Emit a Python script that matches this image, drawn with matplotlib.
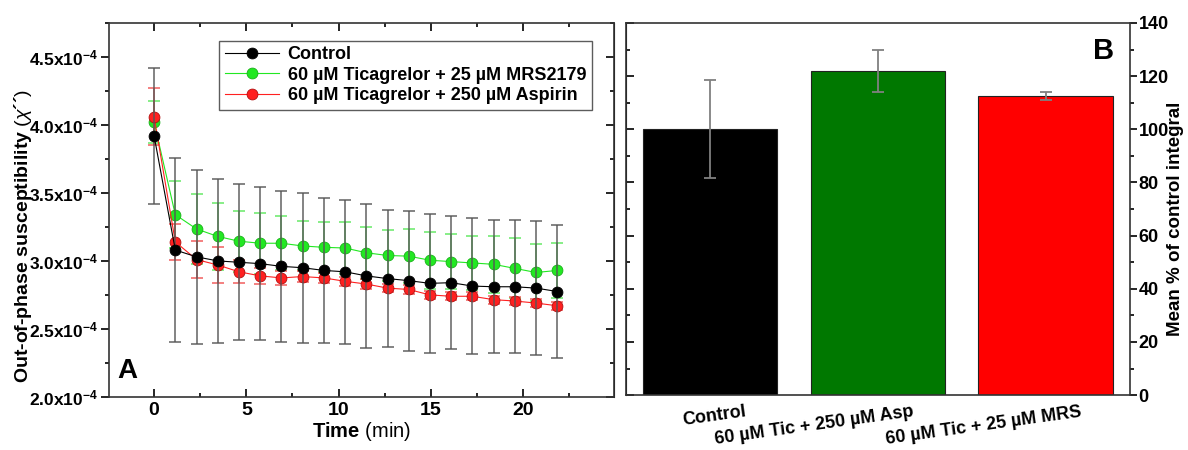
import numpy as np
import matplotlib
matplotlib.use('Agg')
import matplotlib.pyplot as plt
import matplotlib.transforms as mtrans
from matplotlib.ticker import MultipleLocator, FuncFormatter

plt.rcParams['font.family'] = ['Liberation Sans', 'DejaVu Sans']
plt.rcParams['mathtext.fontset'] = 'custom'
plt.rcParams['mathtext.rm'] = 'Liberation Sans'
plt.rcParams['mathtext.it'] = 'Liberation Sans:italic'
plt.rcParams['mathtext.bf'] = 'Liberation Sans:bold'

# panel A data (susceptibility, in units of 1e-4)
time_min = [0, 1.15, 2.3, 3.45, 4.6, 5.75, 6.9, 8.05, 9.2, 10.35,
            11.5, 12.65, 13.8, 14.95, 16.1, 17.25, 18.4, 19.55, 20.7, 21.85]
ctrl = [3.92, 3.08, 3.03, 3.00, 2.99, 2.98, 2.96, 2.95, 2.93, 2.92,
        2.89, 2.87, 2.855, 2.835, 2.84, 2.815, 2.81, 2.81, 2.80, 2.775]
ctrl_err = [0.50, 0.675, 0.64, 0.60, 0.575, 0.56, 0.555, 0.55, 0.53, 0.53,
            0.53, 0.505, 0.515, 0.51, 0.49, 0.50, 0.49, 0.49, 0.49, 0.49]
tic_mrs = [4.02, 3.34, 3.235, 3.18, 3.145, 3.13, 3.13, 3.11, 3.10, 3.095,
           3.06, 3.04, 3.035, 3.005, 2.995, 2.985, 2.975, 2.945, 2.915, 2.93]
tic_mrs_err = [0.155, 0.245, 0.26, 0.245, 0.225, 0.225, 0.20, 0.18, 0.185, 0.19,
               0.19, 0.19, 0.20, 0.21, 0.20, 0.20, 0.21, 0.22, 0.21, 0.20]
tic_asp = [4.06, 3.14, 3.01, 2.97, 2.92, 2.89, 2.875, 2.885, 2.875, 2.85,
           2.83, 2.80, 2.79, 2.75, 2.74, 2.74, 2.715, 2.705, 2.69, 2.67]
tic_asp_err = [0.21, 0.13, 0.135, 0.13, 0.085, 0.06, 0.05, 0.04, 0.035, 0.035,
               0.035, 0.03, 0.03, 0.03, 0.03, 0.03, 0.03, 0.03, 0.03, 0.03]

# panel B data
groups = ['Control', '60 µM Tic + 250 µM Asp', '60 µM Tic + 25 µM MRS']
mean_pct = [100, 121.8, 112.6]
mean_err = [18.5, 7.9, 1.4]
bar_colors = ['#000000', '#007800', '#ff0000']

fig = plt.figure(figsize=(11.88, 4.5), dpi=100)
axA = fig.add_axes([0.0918, 0.118, 0.425, 0.831])
axB = fig.add_axes([0.5267, 0.122, 0.4242, 0.827])

scale = 1e-4
series = [
    (tic_mrs, tic_mrs_err, '#22e822', '#5be85b', '#19b019', '60 µM Ticagrelor + 25 µM MRS2179'),
    (tic_asp, tic_asp_err, '#ff2020', '#f05050', '#b01010', '60 µM Ticagrelor + 250 µM Aspirin'),
    (ctrl, ctrl_err, '#000000', '#555555', '#000000', 'Control'),
]
handles = {}
for vals, errs, fc, ecol, edge, lab in series:
    y = np.array(vals) * scale
    e = np.array(errs) * scale
    axA.errorbar(time_min, y, yerr=e, fmt='none', ecolor=ecol, elinewidth=1.2,
                 capsize=4, capthick=1.2, alpha=0.85)
    h, = axA.plot(time_min, y, '-', color=fc, lw=0.8, marker='o', ms=7.8,
                  mfc=fc, mec=edge, mew=0.6, label=lab)
    handles[lab] = h

order = ['Control', '60 µM Ticagrelor + 25 µM MRS2179', '60 µM Ticagrelor + 250 µM Aspirin']
leg = axA.legend([handles[k] for k in order], order, loc='upper left',
                 bbox_to_anchor=(0.218, 0.953), frameon=True, fancybox=False,
                 edgecolor='#333333', prop={'weight': 'bold', 'size': 13},
                 handlelength=3.0, borderpad=0.3, labelspacing=0.2,
                 handletextpad=0.5, borderaxespad=0)
leg.get_frame().set_linewidth(1.0)

axA.set_xlim(-2.44, 24.92)
axA.set_ylim(2.0e-4, 4.75e-4)
axA.xaxis.set_major_locator(MultipleLocator(5))
axA.xaxis.set_minor_locator(MultipleLocator(2.5))
axA.yaxis.set_major_locator(MultipleLocator(0.5e-4))
axA.yaxis.set_minor_locator(MultipleLocator(0.25e-4))
axA.yaxis.set_major_formatter(FuncFormatter(lambda v, p: r'$\mathbf{%.1fx10^{-4}}$' % (v / scale)))
axA.tick_params(axis='x', which='both', direction='in', top=True, labelsize=14)
axA.tick_params(axis='x', which='major', length=6, width=1.2)
axA.tick_params(axis='x', which='minor', length=3, width=1.2)
axA.tick_params(axis='y', which='both', direction='out', labelsize=12.5)
axA.tick_params(axis='y', which='major', length=6, width=1.2, pad=2)
axA.tick_params(axis='y', which='minor', length=3, width=1.2)
for lbl in axA.get_xticklabels():
    lbl.set_fontweight('bold')
# mirrored inward ticks on right spine
secy = axA.secondary_yaxis('right')
secy.yaxis.set_major_locator(MultipleLocator(0.5e-4))
secy.yaxis.set_minor_locator(MultipleLocator(0.25e-4))
secy.tick_params(which='both', direction='in', labelright=False, width=1.2)
secy.tick_params(which='major', length=6)
secy.tick_params(which='minor', length=3)
for sp in axA.spines.values():
    sp.set_linewidth(1.2)
    sp.set_color('#333333')
axA.set_xlabel(r'Time $\mathrm{(min)}$', fontsize=14.5, fontweight='bold', labelpad=1)
axA.set_ylabel('Out-of-phase susceptibility $(\\chi$\u00b4\u00b4$)$', fontsize=14,
               fontweight='bold')
axA.yaxis.set_label_coords(-0.148, 0.43)
axA.text(0.016, 0.05, 'A', transform=axA.transAxes, fontsize=20, fontweight='bold')

# panel B
xpos = np.arange(1, len(groups) + 1)
axB.bar(xpos, mean_pct, width=0.8, color=bar_colors, edgecolor='#222222', linewidth=0.8)
axB.errorbar(xpos, mean_pct, yerr=mean_err, fmt='none', ecolor='#808080',
             elinewidth=1.3, capsize=4, capthick=1.3)
axB.set_xlim(0.5, 3.5)
axB.set_ylim(0, 140)
axB.yaxis.tick_right()
axB.yaxis.set_label_position('right')
axB.yaxis.set_major_locator(MultipleLocator(20))
axB.yaxis.set_minor_locator(MultipleLocator(10))
axB.tick_params(axis='y', which='both', direction='out', labelsize=13, width=1.2, pad=1.5)
axB.tick_params(axis='y', which='major', length=5)
axB.tick_params(axis='y', which='minor', length=3)
for lbl in axB.get_yticklabels():
    lbl.set_fontweight('bold')
for lbl in axA.get_yticklabels():
    lbl.set_fontweight('bold')
secl = axB.secondary_yaxis('left')
secl.yaxis.set_major_locator(MultipleLocator(20))
secl.yaxis.set_minor_locator(MultipleLocator(10))
secl.tick_params(which='both', direction='in', labelleft=False, width=1.2)
secl.tick_params(which='major', length=6)
secl.tick_params(which='minor', length=3)
axB.set_xticks(xpos)
axB.set_xticklabels(groups, rotation=8, ha='right', rotation_mode='anchor',
                    fontsize=13, fontweight='bold')
axB.tick_params(axis='x', length=0, pad=6)
offset = mtrans.ScaledTranslation(0.35, 0, fig.dpi_scale_trans)
for lbl in axB.get_xticklabels():
    lbl.set_transform(lbl.get_transform() + offset)
for sp in axB.spines.values():
    sp.set_linewidth(1.2)
    sp.set_color('#333333')
axB.set_ylabel('Mean % of control integral', fontsize=13.5, fontweight='bold', labelpad=0)
axB.yaxis.set_label_coords(1.074, 0.475)
axB.text(0.948, 0.925, 'B', transform=axB.transAxes, fontsize=21, fontweight='bold',
         ha='center', va='center')

fig.savefig('out.png', dpi=100)
